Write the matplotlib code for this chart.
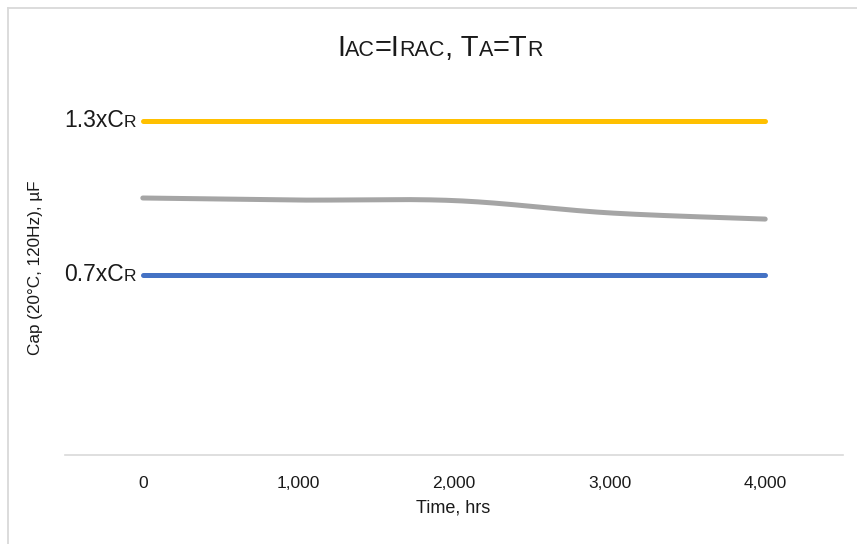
import numpy as np
import matplotlib
matplotlib.use("Agg")
import matplotlib.pyplot as plt
from matplotlib.lines import Line2D

plt.rcParams['font.family'] = ['Liberation Sans', 'DejaVu Sans']

# ---- data ----
time_hrs = [0, 1000, 2000, 3000, 4000]
cap_measured = [1.000, 0.992, 0.990, 0.942, 0.918]
cap_upper = [1.3, 1.3, 1.3, 1.3, 1.3]
cap_lower = [0.7, 0.7, 0.7, 0.7, 0.7]
tick_labels = ["0", "1,000", "2,000", "3,000", "4,000"]
upper_label = [("1.3xC", 16.5), ("R", 12.5)]
lower_label = [("0.7xC", 16.5), ("R", 12.5)]
title_pieces = [("I", 21), ("AC", 15.5), ("=I", 21), ("RAC", 15.5), (", T", 21),
                ("A", 15.5), ("=T", 21), ("R", 15.5)]

W, H = 857, 544
fig = plt.figure(figsize=(W / 100, H / 100), dpi=100)
fig.patch.set_facecolor('white')

ax_l, ax_r, ax_b = 65, 843, 455
ymax = 1.6
ppu = 257
ax_t = ax_b - ymax * ppu
ax = fig.add_axes([ax_l / W, 1 - ax_b / H, (ax_r - ax_l) / W, (ax_b - ax_t) / H])
ax.set_xlim(-500, 4500)
ax.set_ylim(0, ymax)


def smooth(xs, ys, n=40):
    xs = np.asarray(xs, float)
    ys = np.asarray(ys, float)
    px, py = [], []
    for i in range(len(xs) - 1):
        p0 = (xs[max(i - 1, 0)], ys[max(i - 1, 0)])
        p1 = (xs[i], ys[i])
        p2 = (xs[i + 1], ys[i + 1])
        p3 = (xs[min(i + 2, len(xs) - 1)], ys[min(i + 2, len(xs) - 1)])
        c1 = (p1[0] + (p2[0] - p0[0]) / 6, p1[1] + (p2[1] - p0[1]) / 6)
        c2 = (p2[0] - (p3[0] - p1[0]) / 6, p2[1] - (p3[1] - p1[1]) / 6)
        t = np.linspace(0, 1, n)
        for a, b, c, d, out in ((p1[0], c1[0], c2[0], p2[0], px), (p1[1], c1[1], c2[1], p2[1], py)):
            out.extend((1 - t) ** 3 * a + 3 * (1 - t) ** 2 * t * b + 3 * (1 - t) * t ** 2 * c + t ** 3 * d)
    return px, py


lw = 3.6
ax.plot(time_hrs, cap_upper, color='#FFC000', lw=lw, solid_capstyle='round')
ax.plot(time_hrs, cap_lower, color='#4472C4', lw=lw, solid_capstyle='round')
sx, sy = smooth(time_hrs, cap_measured)
ax.plot(sx, sy, color='#A5A5A5', lw=lw, solid_capstyle='round')

for s in ['top', 'right', 'left']:
    ax.spines[s].set_visible(False)
ax.spines['bottom'].set_color('#D9D9D9')
ax.spines['bottom'].set_linewidth(1.2)
ax.set_yticks([])
ax.set_xticks(time_hrs)
ax.set_xticklabels(tick_labels, fontsize=12.5, color='#1a1a1a')
ax.tick_params(axis='x', length=0, pad=15)

fig.text(453 / W, 1 - 508 / H, "Time, hrs", fontsize=13, ha='center', va='center', color='#1a1a1a')
fig.text(36 / W, 1 - 268 / H, "Cap (20°C, 120Hz), µF", fontsize=12.3, rotation=90,
         ha='center', va='center', color='#1a1a1a')

fig.canvas.draw()
renderer = fig.canvas.get_renderer()


def rich(x_px, y_px, pieces, ha='center'):
    texts = []
    widths = []
    for s, size in pieces:
        t = fig.text(0, 0, s, fontsize=size, ha='left', va='baseline', color='#1a1a1a')
        bb = t.get_window_extent(renderer)
        texts.append(t)
        widths.append(bb.width)
    total = sum(widths)
    if ha == 'center':
        x0 = x_px - total / 2
    elif ha == 'right':
        x0 = x_px - total
    else:
        x0 = x_px
    for t, w in zip(texts, widths):
        t.set_position((x0 / W, 1 - y_px / H))
        x0 += w


rich(440, 56, title_pieces, ha='center')
for vals, pieces in ((cap_upper, upper_label), (cap_lower, lower_label)):
    _, ydisp = ax.transData.transform((0, vals[0]))
    rich(136, H - ydisp + 6, pieces, ha='right')

# chart border (left and top visible)
fig.add_artist(Line2D([8 / W, 8 / W], [0, 1 - 8 / H], transform=fig.transFigure, color='#D9D9D9', lw=1.3))
fig.add_artist(Line2D([8 / W, 1], [1 - 8 / H, 1 - 8 / H], transform=fig.transFigure, color='#D9D9D9', lw=1.3))

fig.savefig("out.png", dpi=100)
